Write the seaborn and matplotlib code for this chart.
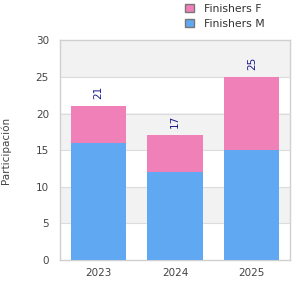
import matplotlib
matplotlib.use("Agg")
import matplotlib.pyplot as plt
import seaborn as sns
import pandas as pd
from matplotlib.patches import Patch

years = ["2023", "2024", "2025"]
finishers_m = [16, 12, 15]
finishers_f = [5, 5, 10]
totals = [m + f for m, f in zip(finishers_m, finishers_f)]

sns.set_theme(style="white")
plt.rcParams['font.family'] = 'DejaVu Sans'

col_m = '#60a8f2'
col_f = '#f080b8'

df = pd.DataFrame({"year": years, "M": finishers_m, "F": finishers_f, "total": totals})

fig = plt.figure(figsize=(3, 3), dpi=100)
ax = fig.add_axes([0.2, 0.133, 0.767, 0.733])

# alternating bands
for lo in range(0, 30, 5):
    if (lo // 5) % 2 == 1:
        ax.axhspan(lo, lo + 5, color='#f2f2f2', zorder=0, lw=0)
for y in range(5, 30, 5):
    ax.axhline(y, color='#dcdcdc', lw=0.8, zorder=0.5)

sns.barplot(data=df, x="year", y="total", color=col_f, width=0.72, saturation=1,
            linewidth=0, ax=ax, zorder=2)
sns.barplot(data=df, x="year", y="M", color=col_m, width=0.72, saturation=1,
            linewidth=0, ax=ax, zorder=3)

for i, t in enumerate(totals):
    ax.text(i, t + 1.0, str(t), rotation=90, ha='center', va='bottom',
            fontsize=7.5, color='#1a1a8c')

ax.set_ylim(0, 30)
ax.set_xlim(-0.5, 2.5)
ax.set_yticks(range(0, 31, 5))
ax.set_xlabel("")
ax.set_ylabel("")
fig.text(0.02, 0.5, "Participación", rotation=90, ha='center', va='center',
         fontsize=7.5, color='#444444')
ax.tick_params(axis='both', labelsize=7.5, colors='#444444', length=0)
ax.tick_params(axis='x', pad=6)
ax.tick_params(axis='y', pad=8)
for s in ax.spines.values():
    s.set_color('#d0d0d0')
    s.set_linewidth(1)

handles = [Patch(facecolor=col_f, edgecolor='#777777', label='Finishers F'),
           Patch(facecolor=col_m, edgecolor='#777777', label='Finishers M')]
fig.legend(handles=handles, loc='upper left', bbox_to_anchor=(0.585, 1.02), frameon=False,
           fontsize=7.8, handlelength=0.8, handleheight=0.8, handletextpad=0.9,
           labelspacing=0.45, labelcolor='#333333')

fig.savefig("out.png", dpi=100)
